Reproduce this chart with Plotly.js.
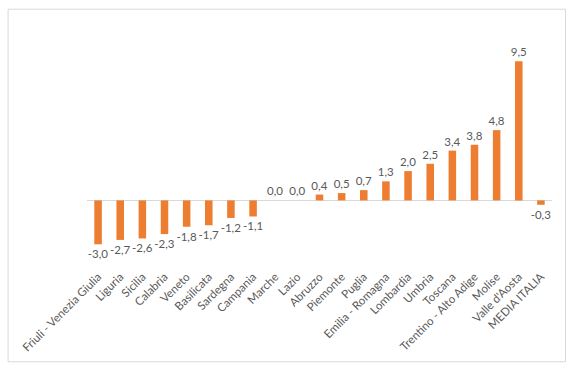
<!DOCTYPE html>
<html>
<head>
<meta charset="utf-8">
<script src="https://cdn.plot.ly/plotly-3.0.1.min.js"></script>
<style>html,body{margin:0;padding:0;background:#fff;}#chart{width:579px;height:369px;}</style>
</head>
<body>
<div id="chart"></div>
<script>
const categories = ["Friuli - Venezia Giulia","Liguria","Sicilia","Calabria","Veneto","Basilicata","Sardegna","Campania","Marche","Lazio","Abruzzo","Piemonte","Puglia","Emilia - Romagna","Lombardia","Umbria","Toscana","Trentino - Alto Adige","Molise","Valle d'Aosta","MEDIA ITALIA"];
const values = [-3.0,-2.7,-2.6,-2.3,-1.8,-1.7,-1.2,-1.1,0.0,0.0,0.4,0.5,0.7,1.3,2.0,2.5,3.4,3.8,4.8,9.5,-0.3];
const labels = values.map(v => v.toFixed(1).replace('.', ','));

const fontFam = "Lato, 'Liberation Sans', sans-serif";
const trace = {
  type: 'bar',
  x: categories,
  y: values,
  text: labels,
  textposition: 'outside',
  constraintext: 'none',
  textfont: {family: fontFam, size: 11.5, color: '#595959'},
  cliponaxis: false,
  marker: {color: '#ED7D31'},
  hoverinfo: 'none'
};

const layout = {
  width: 579, height: 369,
  margin: {l: 87, r: 26.5, t: 54, b: 102},
  paper_bgcolor: '#fff', plot_bgcolor: '#fff',
  showlegend: false,
  bargap: 0.66,
  font: {family: fontFam, color: '#595959'},
  xaxis: {
    type: 'category',
    tickangle: -45,
    tickfont: {family: fontFam, size: 11.5, color: '#595959'},
    showgrid: false, showline: false, zeroline: false, ticks: '',
    automargin: false
  },
  yaxis: {
    range: [-4.55, 10],
    showgrid: false, showline: false, showticklabels: false, ticks: '',
    zeroline: true, zerolinecolor: '#D9D9D9', zerolinewidth: 1,
    automargin: false
  },
  shapes: [{
    type: 'rect', xref: 'paper', yref: 'paper',
    x0: -0.1697, x1: 1.029, y0: -0.4448, y1: 1.2101,
    line: {color: '#D9D9D9', width: 1}, fillcolor: 'rgba(0,0,0,0)', layer: 'below'
  }]
};

Plotly.newPlot('chart', [trace], layout, {displayModeBar: false, staticPlot: true});
</script>
</body>
</html>
